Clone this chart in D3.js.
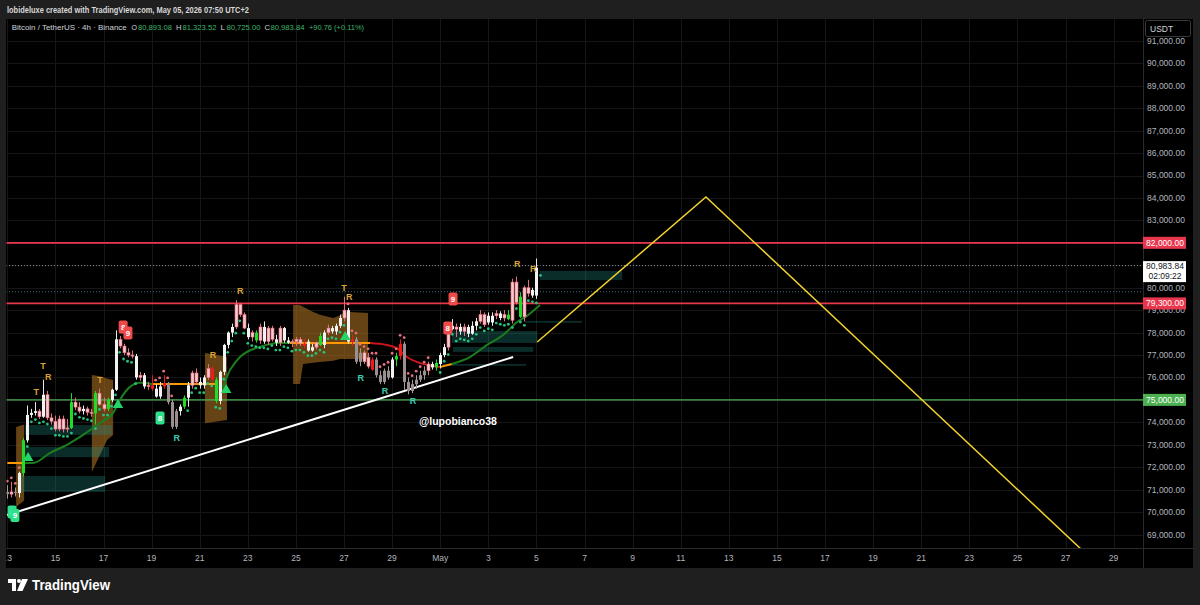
<!DOCTYPE html>
<html><head><meta charset="utf-8">
<script src="https://cdn.jsdelivr.net/npm/d3@7"></script>
<style>
html,body{margin:0;padding:0;background:#1f1f1f;}
svg{display:block;font-family:"Liberation Sans",Arial,sans-serif;}
</style></head><body>
<svg id="c" width="1200" height="605"></svg>
<script>
// ---------------- DATA ----------------
const candleStart = Date.UTC(2026, 3, 13, 0); // first 4h candle (Apr 13 00:00 UTC)
const opens  = [70900,70800,70900,70850,71740,73200,74330,74420,74500,74250,75230,74200,74050,73700,74150,73700,73750,74900,74680,74500,74600,74450,74400,75300,74800,74600,75000,75450,77700,77400,77100,77000,76950,76000,76100,75600,75650,75500,75150,75600,75750,74900,73800,74500,74700,75100,75650,76200,75800,75650,76000,76400,75900,74950,76250,77450,78000,78250,79250,78800,78200,77800,78000,77650,78250,77600,78200,77700,77550,78200,77650,77550,77600,77700,77500,77600,77200,77350,77850,77450,78000,78200,78050,78300,78650,79000,77600,77700,76700,77100,76900,76800,76800,76100,75800,76300,76000,76800,76950,77500,75800,75400,75700,75900,76100,76300,76600,76450,76600,77000,77350,78300,78150,78250,78050,78250,77950,78300,78500,78800,78750,78450,78750,78850,78650,78800,78550,80250,79600,78700,80000,79900,79650,80893.08];
const highs  = [71200,71350,71100,71800,73300,74750,74600,74900,74600,75900,75400,74400,74300,74300,74300,74150,75300,75100,74900,74750,74700,74600,75400,75500,75100,75100,75500,78100,77850,77500,77300,77200,77050,76250,76200,75800,76100,75700,75800,76100,75800,75000,74600,74800,75200,75800,76300,76400,76000,76100,76600,76500,76000,76300,77500,78050,78400,79450,79300,78900,78400,78100,78100,78400,78500,78300,78300,77900,78300,78250,77800,77700,77800,77800,77700,77700,77500,77600,78000,78100,78350,78300,78400,78800,79600,79100,77900,77800,77300,77200,77100,76900,76900,76300,76400,76500,76900,77100,77700,77600,76000,75900,76100,76300,76500,76700,76700,76800,77100,77500,78450,78600,78400,78400,78400,78350,78500,78650,79000,78900,78900,78900,79000,78950,79000,79000,80400,80500,79800,80100,80350,80000,81300,81323.52];
const lows   = [70600,70650,70700,70650,71600,73100,74200,74300,74150,74200,74100,73900,73600,73600,73550,73550,73700,74550,74400,74350,74300,74250,73900,74750,74500,74500,74900,75400,77300,77000,76900,76850,75900,75850,75500,75450,75400,75100,75050,75500,74800,73700,73700,74300,74600,74700,75500,75700,75500,75500,75900,75800,74850,74800,76100,77300,77800,78150,78700,78150,77700,77600,77550,77500,77500,77450,77600,77400,77400,77550,77500,77350,77400,77400,77300,77150,77150,77250,77400,77300,77900,77950,77900,78200,78500,77500,77400,76600,76500,76600,76400,76300,76000,75700,75700,75900,75950,76500,76800,75450,75250,75300,75500,75800,75900,76100,76350,76300,76400,76900,77200,78100,77800,77900,77850,77800,77900,78100,78400,78250,78350,78300,78600,78550,78500,78550,78400,79250,78650,78500,79600,79550,79500,80725];
const closes = [70800,70900,70850,71740,73200,74330,74420,74500,74250,75230,74200,74050,73700,74150,73700,73750,74900,74680,74500,74600,74450,74400,75300,74800,74600,75000,75450,77700,77400,77100,77000,76950,76000,76100,75600,75650,75500,75150,75600,75750,74900,73800,74500,74700,75100,75650,76200,75800,75650,76000,76400,75900,74950,76250,77450,78000,78250,79250,78800,78200,77800,78000,77650,78250,77600,78200,77700,77550,78200,77650,77550,77600,77700,77500,77400,77200,77350,77550,77450,78000,78200,78050,78300,78650,79000,77600,77700,76700,77100,76700,76500,76350,76100,75800,76300,76000,76800,76950,77500,75800,75400,75700,75900,76100,76300,76600,76450,76650,77000,77350,78300,78150,78250,78050,78250,77950,78300,78500,78800,78350,78450,78750,78850,78650,78800,78600,80250,79350,78700,80000,79750,79650,80893,80983.84];
// candle colouring: w white, p pink, g green, r red, s grey
const candleColours = "spswgwwwpwppppppgppwppgppgwwppppwpwprwwrssswgwppwwprgwwwwpppwpgpwppwpwwppprwwpgwpwwwpwrsspprsssswgrsssssspwgwwpwpwpwwwppwwpwpgppgppww";
// trailing-stop dots: g below the bar, p above, . none
const dotKinds = "pppp.gggggggggggggggggggggggggggg....ppppp...ggggggggggggggggggggggggggggggggggggggggppppppppppppppppppppp..gggggggggggggggggggggggggg";

// price levels
const levelPrices = [82000, 79300, 75000];
const levelColours = ["#e8364d", "#e8364d", "#4caf50"];
const lastPrice = 80983.84;
const countdown = "02:09:22";
const dottedLevel = 79820;

// trend line (candle index, price)
const trendIdx = [-0.1, 126.2];
const trendPx  = [69870, 76910];
// projection (candle index, price)
const projIdx = [132.2, 174.3, 268.9];
const projPx  = [77580, 84040, 68180];

// supertrend-like line segments: colour + points (index, price)
const maColours = ["#ff9800","#1c7d1c","#ff9800","#1c7d1c","#ff9800","#c8161c","#ff9800","#1c7d1c"];
const maIdx = [
  [0, 4.4],
  [4.4, 6.4, 10.7, 14.9, 18.9, 23.1, 26.4, 28.1, 30.6, 33.1, 36.1],
  [36.1, 52.3],
  [52.3, 53.1, 55.6, 58.1, 63.1, 68.0, 70.5],
  [70.5, 90.5],
  [90.5, 94.7, 97.2, 99.7, 103.0, 106.2, 107.9],
  [107.9, 110.9],
  [110.9, 115.4, 119.7, 123.7, 127.2, 129.9, 132.9]
];
const maPx = [
  [72190, 72190],
  [72190, 72190, 72640, 73000, 73440, 73970, 74420, 75000, 75580, 75760, 75710],
  [75710, 75710],
  [75710, 75450, 76340, 76920, 77370, 77540, 77540],
  [77540, 77540],
  [77540, 77450, 77310, 76910, 76640, 76510, 76460],
  [76460, 76600],
  [76600, 76910, 77450, 77890, 78470, 78780, 79230]
];

// orange volatility bands: index, upper, lower
const bandIdx = [[2.2, 4.2], [21.1, 23.1, 24.9, 26.4], [49.3, 54.8], [71.3, 73.0, 73.8, 76.3, 78.0, 81.3, 83.0, 83.8, 85.5, 90.0]];
const bandUp  = [[73790, 73900], [76110, 76050, 75950, 75890], [77090, 76910], [79230, 79230, 79150, 78920, 78800, 78650, 78760, 78870, 78920, 78870]];
const bandLo  = [[70230, 70520], [71790, 72550, 73210, 73440], [73960, 74100], [75710, 75710, 76600, 76650, 76690, 76750, 76820, 76820, 76820, 76820]];

// teal zones: start idx, end idx, top, bottom
const zoneStart = [3.2, 4.4, 4.4, 110.9, 111.2, 108.7, 129.2, 132.9];
const zoneEnd   = [24.4, 25.4, 26.1, 132.2, 131.2, 129.4, 143.4, 153.4];
const zoneTop   = [71610, 72900, 73880, 78070, 77360, 76600, 78520, 80750];
const zoneBot   = [70900, 72450, 73440, 77540, 77140, 76520, 78440, 80340];

// signal letters
const letterIdx  = [7.2, 8.9, 10.2, 23.1, 51.3, 58.1, 84.0, 85.3, 127.2, 131.2, 42.3, 88.2, 94.2, 101.2];
const letterPx   = [75353, 76511, 76021, 75888, 77002, 79854, 79987, 79586, 81057, 80834, 73303, 75977, 75398, 74952];
const letterText = ["T","T","R","T","R","R","T","R","R","R","R","R","R","R"];
const letterKind = ["o","o","o","o","o","o","o","o","o","o","t","t","t","t"];
// count tags
const tagIdx  = [28.9, 30.1, 109.9, 111.2, 1.2, 1.9, 38.1];
const tagPx   = [78250, 77980, 78205, 79497, 70000, 69850, 74195];
const tagText = ["8","9","8","9","8","9","8"];
const tagKind = ["r","r","r","r","g","g","g"];
// up triangles
const triIdx = [5.2, 27.6, 54.6, 84.3];
const triPx  = [72412, 74774, 75441, 77804];

// axes ticks
const priceTicks = d3.range(69000, 91001, 1000);
const timeTickDates = ["2026-04-13","2026-04-15","2026-04-17","2026-04-19","2026-04-21","2026-04-23","2026-04-25","2026-04-27","2026-04-29","2026-05-01","2026-05-03","2026-05-05","2026-05-07","2026-05-09","2026-05-11","2026-05-13","2026-05-15","2026-05-17","2026-05-19","2026-05-21","2026-05-23","2026-05-25","2026-05-27","2026-05-29"];
const timeTickLabels = ["13","15","17","19","21","23","25","27","29","May","3","5","7","9","11","13","15","17","19","21","23","25","27","29"];

// ---------------- DRAW ----------------
const svg = d3.select("#c");
const P = {x0: 6, x1: 1143, y0: 19, y1: 548, axR: 1193, axB: 568};

const x = d3.scaleUtc()
  .domain([new Date(Date.UTC(2026,3,13)), new Date(Date.UTC(2026,4,31))])
  .range([7.3, 1161.7]);
const y = d3.scaleLinear().domain([69000, 90000]).range([534.54, 63.3]);
const H4 = 4 * 3600 * 1000;
const xi = i => x(new Date(candleStart + i * H4));

svg.append("rect").attr("width",1200).attr("height",605).attr("fill","#1f1f1f");
svg.append("rect").attr("x",P.x0).attr("y",P.y0).attr("width",P.axR-P.x0).attr("height",P.axB-P.y0).attr("fill","#000");

const defs = svg.append("defs");
defs.append("clipPath").attr("id","plotclip")
  .append("rect").attr("x",P.x0+0.5).attr("y",P.y0).attr("width",P.x1-P.x0-0.5).attr("height",P.y1-P.y0);

const g = svg.append("g").attr("clip-path","url(#plotclip)");

// grid
g.selectAll(".hg").data(priceTicks).join("line")
  .attr("x1",P.x0).attr("x2",P.x1).attr("y1",d=>Math.round(y(d))+0.5).attr("y2",d=>Math.round(y(d))+0.5)
  .attr("stroke","#161616").attr("stroke-width",1);
g.selectAll(".vg").data(timeTickDates).join("line")
  .attr("y1",P.y0).attr("y2",P.y1).attr("x1",d=>Math.round(x(new Date(d+"T00:00:00Z")))+0.5).attr("x2",d=>Math.round(x(new Date(d+"T00:00:00Z")))+0.5)
  .attr("stroke","#161616").attr("stroke-width",1);

// bands
bandIdx.forEach((bi, k) => {
  const pts = bi.map((v,j)=>[xi(v), y(bandUp[k][j])]).concat(bi.map((v,j)=>[xi(v), y(bandLo[k][j])]).reverse());
  g.append("path").attr("d", d3.line()(pts) + "Z").attr("fill","rgba(165,108,32,0.62)");
});

// zones
g.selectAll(".zone").data(zoneStart).join("rect")
  .attr("x",(d,i)=>xi(d)).attr("width",(d,i)=>xi(zoneEnd[i])-xi(d))
  .attr("y",(d,i)=>y(zoneTop[i])).attr("height",(d,i)=>Math.max(1.5,y(zoneBot[i])-y(zoneTop[i])))
  .attr("fill","rgba(34,150,140,0.30)");

// dotted lines
g.append("line").attr("x1",P.x0).attr("x2",P.x1).attr("y1",y(lastPrice)).attr("y2",y(lastPrice))
  .attr("stroke","#8a8d96").attr("stroke-width",1).attr("stroke-dasharray","1,2");
g.append("line").attr("x1",P.x0).attr("x2",P.x1).attr("y1",y(dottedLevel)).attr("y2",y(dottedLevel))
  .attr("stroke","#3f6d78").attr("stroke-width",1).attr("stroke-dasharray","1,2");

// levels
g.selectAll(".lvl").data(levelPrices).join("line")
  .attr("x1",P.x0).attr("x2",P.x1).attr("y1",d=>y(d)).attr("y2",d=>y(d))
  .attr("stroke",(d,i)=>levelColours[i]).attr("stroke-width",(d,i)=>i<2?1.8:1.4);

// trend line
g.append("line").attr("x1",xi(trendIdx[0])).attr("y1",y(trendPx[0])).attr("x2",xi(trendIdx[1])).attr("y2",y(trendPx[1]))
  .attr("stroke","#ffffff").attr("stroke-width",2);

// MA segments
const maLine = d3.line().curve(d3.curveMonotoneX);
maIdx.forEach((seg,k)=>{
  g.append("path").attr("d", maLine(seg.map((v,j)=>[xi(v), y(maPx[k][j])])))
    .attr("fill","none").attr("stroke",maColours[k]).attr("stroke-width",2);
});

// candles
const fillMap = {w:"#f2f2f2", p:"#f6c9ce", g:"#1fdc2a", r:"#f01a1a", s:"#9b9090"};
const wickMap = {w:"#e8e8e8", p:"#e07080", g:"#1fdc2a", r:"#f01a1a", s:"#a89a9a"};
const idxs = d3.range(opens.length);
g.selectAll(".wick").data(idxs).join("line")
  .attr("x1",i=>Math.round(xi(i))+0.5).attr("x2",i=>Math.round(xi(i))+0.5)
  .attr("y1",i=>y(highs[i])).attr("y2",i=>y(lows[i]))
  .attr("stroke",i=>wickMap[candleColours[i]]).attr("stroke-width",1);
g.selectAll(".body").data(idxs).join("rect")
  .attr("x",i=>Math.round(xi(i))-1).attr("width",3)
  .attr("y",i=>y(Math.max(opens[i],closes[i])))
  .attr("height",i=>Math.max(1,Math.abs(y(opens[i])-y(closes[i]))))
  .attr("fill",i=>fillMap[candleColours[i]])
  .attr("stroke",i=>candleColours[i]==="p"?"#e86a7a":"none").attr("stroke-width",0.6);

// dots
g.selectAll(".dot").data(idxs.filter(i=>dotKinds[i]==="g"||dotKinds[i]==="p")).join("circle")
  .attr("cx",i=>xi(i)).attr("cy",i=>dotKinds[i]==="g"? y(lows[i])+4 : y(highs[i])-4)
  .attr("r",1.4).attr("fill",i=>dotKinds[i]==="g"?"#27c27e":"#e5707c");

// letters
g.selectAll(".let").data(letterIdx).join("text")
  .attr("x",(d)=>xi(d)).attr("y",(d,i)=>y(letterPx[i])).attr("dy","0.35em")
  .attr("text-anchor","middle").attr("font-size",9).attr("font-weight","bold")
  .attr("fill",(d,i)=>letterKind[i]==="o"?"#d9a233":"#3ccbb5").text((d,i)=>letterText[i]);

// tags
const tags = g.selectAll(".tag").data(tagIdx).join("g")
  .attr("transform",(d,i)=>`translate(${xi(d)},${y(tagPx[i])})`);
tags.append("rect").attr("x",-4.5).attr("y",-6.5).attr("width",9).attr("height",13).attr("rx",2)
  .attr("fill",(d,i)=>tagKind[i]==="r"?"#ef4a4a":"#2ee08a");
tags.append("text").attr("text-anchor","middle").attr("dy","0.35em").attr("font-size",8).attr("font-weight","bold")
  .attr("fill","#fff").text((d,i)=>tagText[i]);

// triangles
g.selectAll(".tri").data(triIdx).join("path")
  .attr("d",d3.symbol().type(d3.symbolTriangle).size(48))
  .attr("transform",(d,i)=>`translate(${xi(d)},${y(triPx[i])})`)
  .attr("fill","#25d366");

// projection
g.append("path").attr("d", d3.line()(projIdx.map((v,j)=>[xi(v), y(projPx[j])])))
  .attr("fill","none").attr("stroke","#f2d22c").attr("stroke-width",1.5);

// watermark
svg.append("text").attr("x",458).attr("y",421).attr("dy","0.35em").attr("text-anchor","middle")
  .attr("font-size",10.5).attr("font-weight","bold").attr("fill","#ffffff").text("@lupobianco38");

// axes frame
svg.append("line").attr("x1",P.x1+0.5).attr("x2",P.x1+0.5).attr("y1",P.y0).attr("y2",P.axB).attr("stroke","#2a2a2a");
svg.append("line").attr("x1",P.x0).attr("x2",P.axR).attr("y1",P.y1+0.5).attr("y2",P.y1+0.5).attr("stroke","#2a2a2a");

// price axis labels
const fmt = d3.format(",.2f");
svg.selectAll(".pl").data(priceTicks).join("text")
  .attr("x",1166).attr("y",d=>y(d)).attr("dy","0.35em").attr("text-anchor","middle")
  .attr("font-size",8.5).attr("fill","#b2b5be").text(d=>fmt(d));

// level labels
levelPrices.forEach((p,i)=>{
  svg.append("rect").attr("x",P.x1).attr("y",y(p)-6).attr("width",43).attr("height",12).attr("fill",levelColours[i]);
  svg.append("text").attr("x",1165).attr("y",y(p)).attr("dy","0.35em").attr("text-anchor","middle")
    .attr("font-size",8.5).attr("fill","#fff").text(fmt(p));
});
svg.append("rect").attr("x",P.x1).attr("y",y(lastPrice)-4.5).attr("width",43).attr("height",21).attr("fill","#ffffff");
svg.append("text").attr("x",1165).attr("y",y(lastPrice)+0.5).attr("dy","0.35em").attr("text-anchor","middle")
  .attr("font-size",8.5).attr("fill","#131722").text(fmt(lastPrice));
svg.append("text").attr("x",1165).attr("y",y(lastPrice)+10.5).attr("dy","0.35em").attr("text-anchor","middle")
  .attr("font-size",8.5).attr("fill","#131722").text(countdown);

// USDT button
svg.append("rect").attr("x",1145.5).attr("y",20.5).attr("width",45).attr("height",16).attr("rx",2)
  .attr("fill","#000").attr("stroke","#3a3a3a");
svg.append("text").attr("x",1150).attr("y",29).attr("dy","0.35em").attr("font-size",8.5).attr("fill","#d1d4dc").text("USDT");

// time axis labels
defs.append("clipPath").attr("id","tclip").append("rect").attr("x",P.x0+0.5).attr("y",P.y1).attr("width",P.x1-P.x0).attr("height",20);
svg.append("g").attr("clip-path","url(#tclip)").selectAll("text").data(timeTickDates).join("text")
  .attr("x",d=>x(new Date(d+"T00:00:00Z"))).attr("y",558).attr("dy","0.35em").attr("text-anchor","middle")
  .attr("font-size",8.5).attr("fill","#b2b5be").text((d,i)=>timeTickLabels[i]);

// header
svg.append("text").attr("x",7).attr("y",10).attr("dy","0.35em").attr("font-size",9.5).attr("font-weight","bold")
  .attr("fill","#d8d8d8").attr("textLength",242).attr("lengthAdjust","spacingAndGlyphs")
  .text("lobideluxe created with TradingView.com, May 05, 2026 07:50 UTC+2");
const hdr = [
  [11.7, "Bitcoin / TetherUS · 4h · Binance", "#d1d4dc", 115, 7.2],
  [131.5, "O", "#d1d4dc", 5.5, 7.2], [138, "80,893.08", "#3fb56a", 34, 7.8],
  [176, "H", "#d1d4dc", 5.5, 7.2], [182.5, "81,323.52", "#3fb56a", 34, 7.8],
  [220.5, "L", "#d1d4dc", 4.5, 7.2], [226.5, "80,725.00", "#3fb56a", 34, 7.8],
  [264.5, "C", "#d1d4dc", 5.5, 7.2], [270.5, "80,983.84", "#3fb56a", 34, 7.8],
  [309, "+90.76 (+0.11%)", "#3fb56a", 55, 7.8]
];
hdr.forEach(h=>{
  svg.append("text").attr("x",h[0]).attr("y",27.5).attr("dy","0.35em").attr("font-size",h[4]).attr("fill",h[2])
    .attr("textLength",h[3]).attr("lengthAdjust","spacingAndGlyphs").text(h[1]);
});

// TradingView logo
const lg = svg.append("g").attr("transform","translate(8,579)");
lg.append("path").attr("d","M0 0 H8 V12 H4 V4 H0 Z").attr("fill","#fff");
lg.append("circle").attr("cx",11).attr("cy",2).attr("r",2).attr("fill","#fff");
lg.append("path").attr("d","M14 0 H20 L14.5 12 H9 Z").attr("fill","#fff");
svg.append("text").attr("x",32).attr("y",585).attr("dy","0.35em").attr("font-size",15).attr("font-weight","bold")
  .attr("fill","#ffffff").attr("textLength",78).attr("lengthAdjust","spacingAndGlyphs").text("TradingView");
</script>
</body></html>
